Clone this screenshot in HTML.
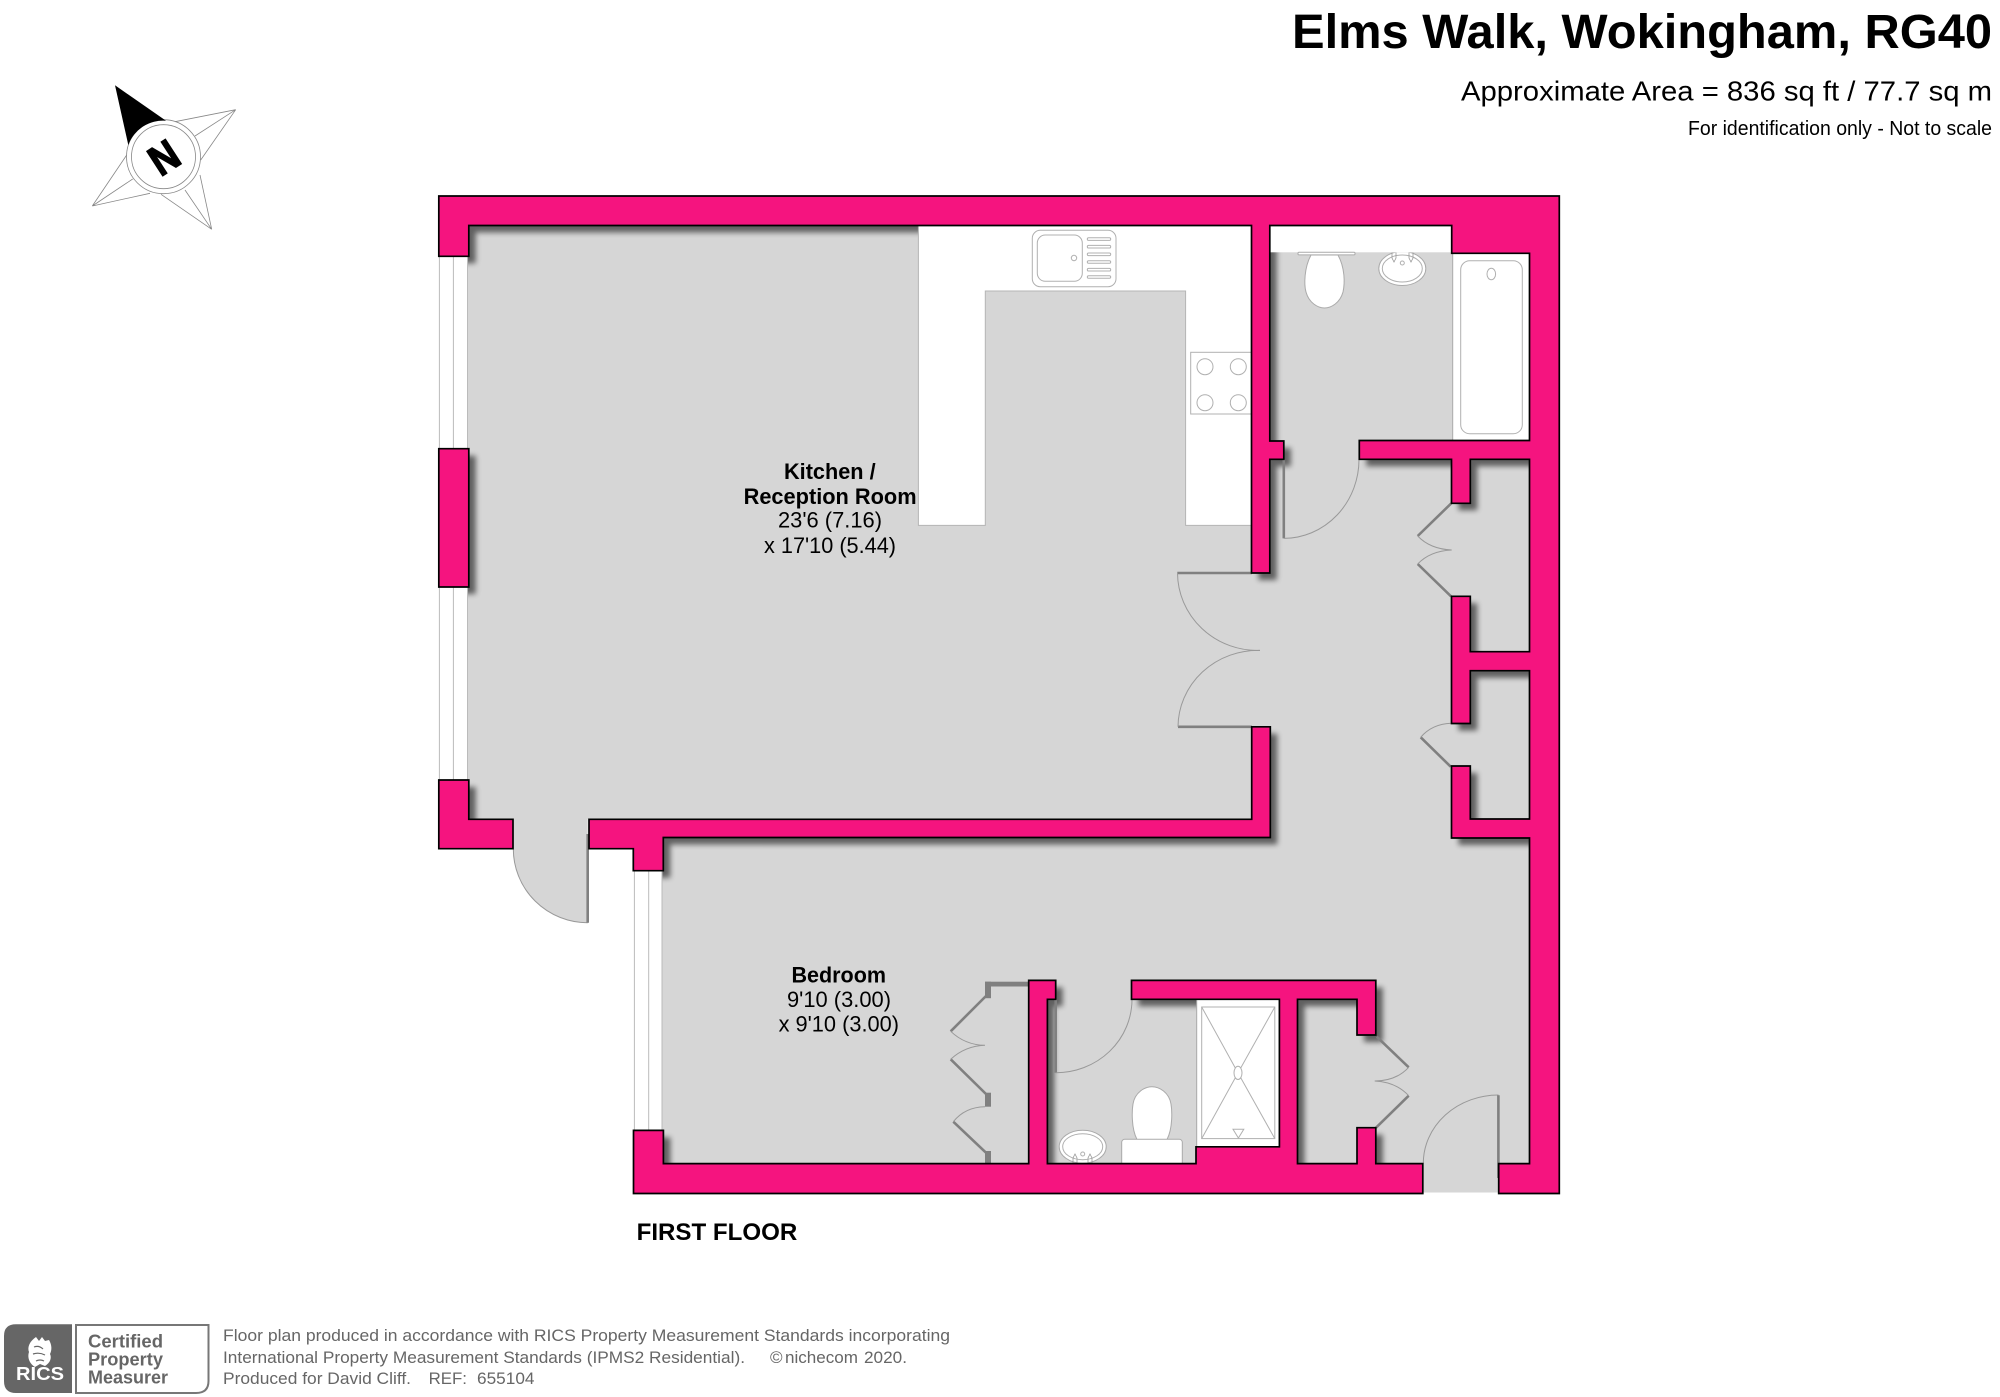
<!DOCTYPE html>
<html lang="en">
<head>
<meta charset="utf-8">
<title>Elms Walk, Wokingham, RG40 - Floor Plan</title>
<style>
html,body{margin:0;padding:0;background:#fff;width:2000px;height:1397px;overflow:hidden}
svg{display:block}
text{font-family:"Liberation Sans",Arial,sans-serif;fill:#000}
.b{font-weight:bold}
.ft{fill:#666;font-size:17px}
.cp{fill:#666;font-weight:bold;font-size:18px}
.fx{fill:#fff;stroke:#aaa;stroke-width:1}
.fn{fill:none;stroke:#b0b0b0;stroke-width:1}
.arc{fill:none;stroke:#999;stroke-width:1}
.dl{fill:none;stroke:#808080;stroke-width:2.6}
.cs{fill:none;stroke:#999;stroke-width:.8}
</style>
</head>
<body>
<svg width="2000" height="1397" viewBox="0 0 2000 1397" xmlns="http://www.w3.org/2000/svg">
<defs>
<filter id="blur" filterUnits="userSpaceOnUse" x="400" y="170" width="1200" height="1050"><feGaussianBlur stdDeviation="2.6"/></filter>
<clipPath id="floorClip"><polygon points="467.5,225 1530,225 1530,1164 1423,1164 1423,1163 662,1163 662,819 467.5,819"/></clipPath>
<clipPath id="topClip"><rect x="1370" y="252.5" width="70" height="50"/></clipPath>
<path id="w1" d="M438.8,196H1559.3V1193.5H1498.7V1163.6H1529.5V838H1451.5V766H1470.3V819H1529.5V670.7H1470.3V723.5H1451.5V596.3H1470.3V651.7H1529.5V459.3H1470.3V503.3H1451.5V459.3H1359.3V440.5H1529.5V253.3H1451.7V225.5H1269.8V441H1283.8V459.3H1269.8V573H1251.5V225.5H468.8V256.3H438.8Z"/>
<path id="w2" d="M438.8,448.7H468.8V587H438.8Z"/>
<path id="w3" d="M438.8,780H468.8V819.3H513V848.7H438.8Z"/>
<path id="w4" d="M589,819.3H1251.7V726.8H1270.3V837.5H663.3V870.7H633.3V848.7H589Z"/>
<path id="w5" d="M633.5,1130.4H663.4V1163.6H1028.7V980.4H1055.7V999.3H1047.4V1163.6H1196V1146.8H1279.4V999.3H1131.5V980.4H1375.8V1035H1357V999.3H1297.5V1163.6H1357V1127.7H1375.8V1163.6H1422.8V1193.5H633.5Z"/>
</defs>

<rect width="2000" height="1397" fill="#fff"/>

<!-- floor -->
<polygon fill="#d6d6d6" points="467.5,225 1530,225 1530,1164 1498.7,1164 1498.7,1192.5 1423,1192.5 1423,1163 662,1163 662,819 467.5,819"/>
<path fill="#d6d6d6" d="M513.3,819H587.7V922.7A74.4,74 0 0 1 513.3,848.7Z"/>

<!-- wall drop shadow, only on the floor -->
<g clip-path="url(#floorClip)">
<g transform="translate(7,7)" fill="#000" opacity=".55" filter="url(#blur)">
<use href="#w1"/><use href="#w2"/><use href="#w3"/><use href="#w4"/><use href="#w5"/>
</g>
</g>

<!-- windows -->
<rect x="439" y="256" width="28.5" height="193" fill="#fff"/>
<rect x="439" y="587" width="28.5" height="193" fill="#fff"/>
<rect x="634" y="871" width="28" height="260" fill="#fff"/>
<g stroke="#bbb" stroke-width="1" fill="none">
<path d="M439.4,256V449M453.4,256V449M467.5,256V449"/>
<path d="M439.4,587V780M453.4,587V780M467.5,587V780"/>
<path d="M634.4,871V1131M648.7,871V1131M662,871V1131"/>
</g>

<!-- kitchen counters -->
<polygon fill="#fff" stroke="#b5b5b5" stroke-width="1" points="918.4,225.5 1252,225.5 1252,525.4 1185.6,525.4 1185.6,291 985.3,291 985.3,525.4 918.4,525.4"/>
<!-- sink -->
<rect class="fn" x="1032.3" y="230.3" width="83.7" height="56.4" rx="8"/>
<rect class="fn" x="1037.3" y="235" width="45" height="46.3" rx="8"/>
<circle class="fn" cx="1074" cy="258" r="2.7"/>
<g class="fn">
<rect x="1087.3" y="237.8" width="23.4" height="2.6" rx="1.3"/>
<rect x="1087.3" y="245.4" width="23.4" height="2.6" rx="1.3"/>
<rect x="1087.3" y="253" width="23.4" height="2.6" rx="1.3"/>
<rect x="1087.3" y="260.7" width="23.4" height="2.6" rx="1.3"/>
<rect x="1087.3" y="268.4" width="23.4" height="2.6" rx="1.3"/>
<rect x="1087.3" y="275.7" width="23.4" height="2.6" rx="1.3"/>
</g>
<!-- hob -->
<rect class="fn" x="1190.7" y="352.3" width="62" height="61.7"/>
<g class="fn">
<circle cx="1205" cy="366.7" r="8"/><circle cx="1238.3" cy="366.7" r="8"/>
<circle cx="1205" cy="402.7" r="8"/><circle cx="1238.3" cy="402.7" r="8"/>
</g>

<!-- bathroom -->
<rect x="1270" y="225.5" width="182" height="26.8" fill="#fff"/>
<rect x="1452.7" y="253" width="77" height="187.5" fill="#fff"/>
<path d="M1452.7,253V440.5" stroke="#aaa" stroke-width="1" fill="none"/>
<rect class="fn" x="1460.7" y="260.7" width="61.6" height="173" rx="9"/>
<ellipse class="fn" cx="1491.3" cy="274" rx="4.3" ry="5.7"/>
<rect class="fx" x="1298" y="252.3" width="57" height="2.6" rx="1"/>
<path class="fx" d="M1311,255C1304,268 1304,285 1306,292C1309,303 1318,308 1324.5,308C1331,308 1340,303 1343,292C1345,283 1345,268 1338,255Z"/>
<g clip-path="url(#topClip)">
<ellipse class="fx" cx="1402.3" cy="268.5" rx="23.5" ry="17"/>
<ellipse class="fn" cx="1402.3" cy="268.5" rx="20" ry="13.5"/>
<circle class="fn" cx="1402.3" cy="263" r="2"/>
<path class="cs" d="M1392,252.5V258L1394,262L1396,258V252.5M1409,252.5V258L1411,262L1413,258V252.5"/>
</g>

<!-- shower -->
<rect x="1196.7" y="999" width="83" height="148" fill="#fff" stroke="#aaa" stroke-width="1"/>
<rect class="fn" x="1201.7" y="1007" width="73.1" height="131.6"/>
<path class="fn" d="M1201.7,1007L1238,1072.9L1274.8,1007M1201.7,1138.6L1238,1072.9L1274.8,1138.6"/>
<ellipse cx="1238" cy="1072.9" rx="4" ry="6.6" fill="#fff" stroke="#b0b0b0" stroke-width="1"/>
<path class="fn" d="M1233,1129.3H1243.8L1238.4,1138Z"/>

<!-- ensuite fixtures -->
<path class="fx" d="M1137,1139.5C1131,1128 1132,1110 1133,1104C1135,1092 1145,1086.7 1152,1086.7C1159,1086.7 1169,1092 1171,1104C1172,1110 1173,1128 1167,1139.5Z"/>
<rect class="fx" x="1121.7" y="1139.3" width="60.6" height="30" rx="3"/>
<ellipse class="fx" cx="1082.7" cy="1146.7" rx="23.5" ry="16.5"/>
<ellipse class="fn" cx="1082.7" cy="1146.7" rx="20" ry="13"/>
<circle class="fn" cx="1082.7" cy="1154" r="2"/>
<path class="cs" d="M1073,1164V1158L1075,1154L1077,1158V1164M1088,1164V1158L1090,1154L1092,1158V1164"/>

<!-- doors -->
<path class="arc" d="M513.3,848.7A74.4,74 0 0 0 587.7,922.7"/>
<path class="dl" d="M587.7,834V922.7"/>
<path class="dl" stroke-width="2" d="M1177.3,573H1252M1178,726.8H1252"/>
<path class="arc" d="M1177.5,573A80,78 0 0 0 1260,650.4"/>
<path class="arc" d="M1178,726.8A80,77 0 0 1 1260,650.4"/>
<path class="dl" d="M1283.8,459V538.4"/>
<path class="arc" d="M1283.8,538.4A75.5,79 0 0 0 1359,459"/>
<path class="dl" d="M1451.3,503.3L1417.7,536M1417.7,564L1451,596.3"/>
<path class="arc" d="M1417.7,536Q1430,549 1451.7,550M1451.7,550Q1430,551 1417.7,564"/>
<path class="dl" d="M1420.7,737.3L1450.7,766.7"/>
<path class="arc" d="M1451.3,723.3Q1432,724 1420.7,737.3"/>
<path class="dl" d="M1055.7,999V1072.7"/>
<path class="arc" d="M1055.7,1072.7A76,73.4 0 0 0 1132,999.3"/>
<path class="dl" d="M1376.7,1036.7L1408.7,1067.3M1408.7,1095.7L1376,1127.7"/>
<path class="arc" d="M1408.7,1067.3Q1396,1081 1374.7,1081M1374.7,1081Q1396,1082 1408.7,1095.7"/>
<path class="arc" d="M1423.3,1163.3A75.2,68.3 0 0 1 1498.5,1095"/>
<path class="dl" d="M1498.4,1095.3V1178"/>
<!-- wardrobe -->
<g fill="#808080">
<rect x="985" y="981.7" width="44" height="4.8"/>
<rect x="985" y="981.7" width="6" height="16.5"/>
<rect x="985" y="1092.7" width="6" height="14"/>
<rect x="985" y="1151" width="6" height="12.6"/>
</g>
<path class="dl" d="M986,996L950.7,1031.3M950.7,1059.3L986,1094M953.3,1121.7L986,1152.7"/>
<path class="arc" d="M950.7,1031.3Q965,1045 985,1045.3M985,1045.3Q965,1046 950.7,1059.3M985,1106.7Q965,1107 953.3,1121.7"/>

<!-- walls -->
<g fill="#f5147f" stroke="#000" stroke-width="1.7" stroke-linejoin="miter">
<use href="#w1"/><use href="#w2"/><use href="#w3"/><use href="#w4"/><use href="#w5"/>
</g>

<!-- compass -->
<g fill="none" stroke="#888" stroke-width=".8">
<path d="M235.7,109.7L175,121.7M235.7,109.7L195,136M235.7,109.7L200.7,160"/>
<path d="M211.7,229.3L200,175M211.7,229.3L185,190M211.7,229.3L161,194.3"/>
<path d="M92.3,206L150,193.3M92.3,206L132.7,179M92.3,206L126.7,155"/>
<circle cx="163.5" cy="156.7" r="37"/>
<circle cx="163.5" cy="156.7" r="32"/>
</g>
<path fill="#000" d="M115,85.3L166,120.7A37,37 0 0 0 128.3,145Z"/>
<text class="b" font-size="42" text-anchor="middle" textLength="27" lengthAdjust="spacingAndGlyphs" stroke="#000" stroke-width="1.6" transform="translate(164,157.5) rotate(-33) translate(-13.5,14.5)" x="13.5" y="0">N</text>

<!-- header text -->
<text class="b" x="1292" y="48" font-size="48" textLength="700" lengthAdjust="spacingAndGlyphs">Elms Walk, Wokingham, RG40</text>
<text x="1461" y="100.4" font-size="28" textLength="531" lengthAdjust="spacingAndGlyphs">Approximate Area = 836 sq ft / 77.7 sq m</text>
<text x="1688" y="135" font-size="20" textLength="304" lengthAdjust="spacingAndGlyphs">For identification only - Not to scale</text>

<!-- room labels -->
<text class="b" x="784" y="479" font-size="22" textLength="91.6" lengthAdjust="spacingAndGlyphs">Kitchen /</text>
<text class="b" x="743.6" y="504" font-size="22" textLength="173" lengthAdjust="spacingAndGlyphs">Reception Room</text>
<text x="778" y="527.5" font-size="22" textLength="104" lengthAdjust="spacingAndGlyphs">23'6 (7.16)</text>
<text x="764" y="553" font-size="22" textLength="132" lengthAdjust="spacingAndGlyphs">x 17'10 (5.44)</text>
<text class="b" x="791.5" y="982.5" font-size="22" textLength="94.5" lengthAdjust="spacingAndGlyphs">Bedroom</text>
<text x="787" y="1007" font-size="22" textLength="104" lengthAdjust="spacingAndGlyphs">9'10 (3.00)</text>
<text x="778.6" y="1031.4" font-size="22" textLength="120.4" lengthAdjust="spacingAndGlyphs">x 9'10 (3.00)</text>
<text class="b" x="636.6" y="1240" font-size="24" textLength="160.7" lengthAdjust="spacingAndGlyphs">FIRST FLOOR</text>

<!-- RICS badge -->
<path fill="#666" d="M72,1324.3H16Q4,1324.3 4,1336V1381Q4,1393 16,1393H72Z"/>
<path fill="#fff" d="M36,1337L39,1341L42,1337L45,1341L49,1340C52,1345 52,1350 50,1354C52,1358 50,1363 45,1366L40,1364L35,1367C30,1364 27,1358 29,1352C27,1347 30,1341 36,1337Z"/>
<path fill="none" stroke="#666" stroke-width="1.2" d="M34,1347Q39,1345 43,1349M33,1354Q39,1352 45,1355M36,1361Q40,1359 44,1361"/>
<text x="16" y="1380" class="b" font-size="18" textLength="48" lengthAdjust="spacingAndGlyphs" style="fill:#fff">RICS</text>
<path fill="#fff" stroke="#777" stroke-width="2" d="M76,1325H208.5V1381Q208.5,1393 196,1393H76Z"/>
<text class="cp" x="88" y="1347.7" textLength="75" lengthAdjust="spacingAndGlyphs">Certified</text>
<text class="cp" x="88" y="1365.5" textLength="75" lengthAdjust="spacingAndGlyphs">Property</text>
<text class="cp" x="88" y="1383.7" textLength="80" lengthAdjust="spacingAndGlyphs">Measurer</text>

<!-- footer -->
<text class="ft" x="223" y="1341" textLength="727" lengthAdjust="spacingAndGlyphs">Floor plan produced in accordance with RICS Property Measurement Standards incorporating</text>
<text class="ft" x="223" y="1363" textLength="522" lengthAdjust="spacingAndGlyphs">International Property Measurement Standards (IPMS2 Residential).</text>
<text class="ft" x="770" y="1363">©</text>
<text class="ft" x="785" y="1363" textLength="73" lengthAdjust="spacingAndGlyphs">nichecom</text>
<text class="ft" x="864" y="1363" textLength="43" lengthAdjust="spacingAndGlyphs">2020.</text>
<text class="ft" x="223" y="1384" textLength="188" lengthAdjust="spacingAndGlyphs">Produced for David Cliff.</text>
<text class="ft" x="428.6" y="1384" textLength="38.4" lengthAdjust="spacingAndGlyphs">REF:</text>
<text class="ft" x="477" y="1384" textLength="57.5" lengthAdjust="spacingAndGlyphs">655104</text>
</svg>
</body>
</html>
